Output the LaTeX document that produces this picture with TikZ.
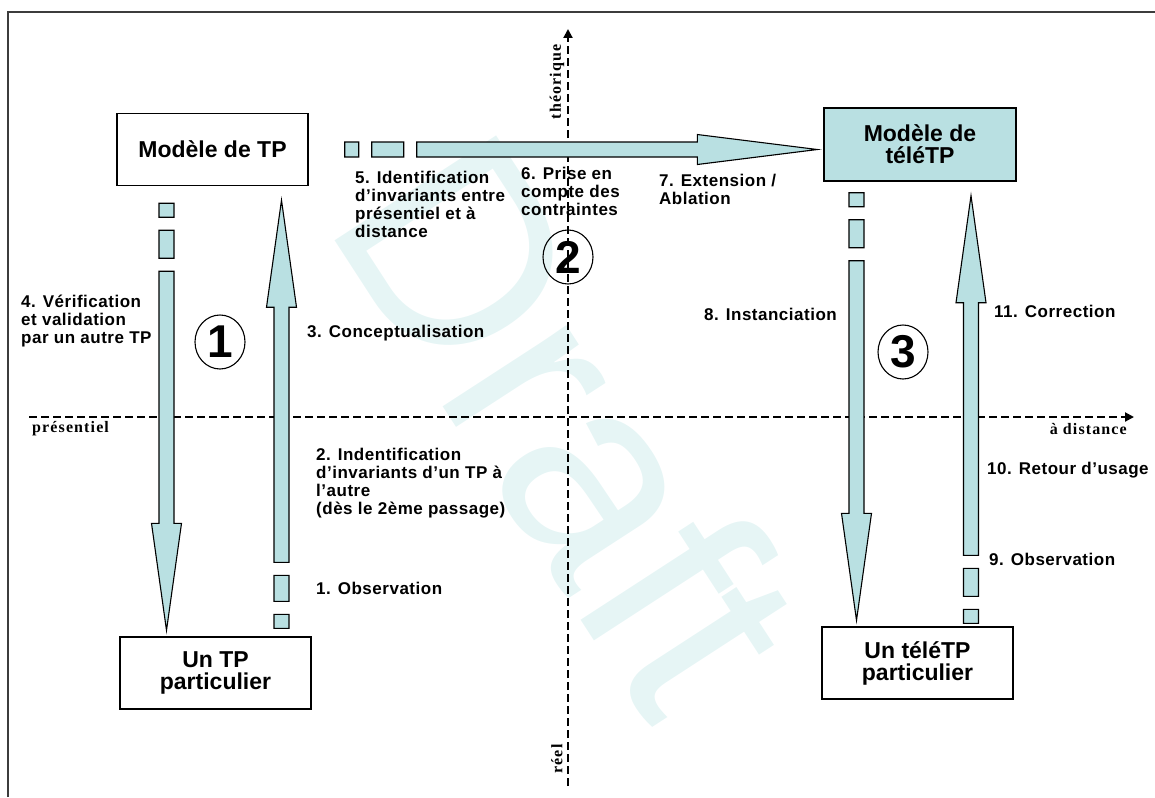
\documentclass[tikz,border=0pt]{standalone}
\usepackage{fontspec}
\setmainfont{Liberation Sans}
\newfontfamily\labfont{Liberation Sans}[LetterSpace=3]
\newfontfamily\axfont{Liberation Serif}[LetterSpace=7]
\usetikzlibrary{calc,arrows.meta,shapes.geometric}
\definecolor{blkfill}{RGB}{185,224,226}
\definecolor{wmcol}{RGB}{230,245,245}
\definecolor{framegray}{RGB}{60,60,60}
\tikzset{
  blk/.style={fill=blkfill, draw=black, line width=1.1pt, line join=miter},
  box/.style={draw=black, line width=1.4pt, minimum width=191pt, minimum height=72pt,
    inner sep=0pt, align=center, font=\fontsize{23}{22}\selectfont\bfseries},
  lab/.style={anchor=north west, inner sep=0pt, align=left,
    font=\labfont\fontsize{17}{18}\selectfont\bfseries},
  axl/.style={inner sep=0pt, font=\axfont\fontsize{16}{16}\selectfont\bfseries},
  axisline/.style={line width=2pt, dash pattern=on 8pt off 4pt, -{Triangle[length=9pt,width=9pt]}},
  num/.style={draw=black, line width=1.1pt, ellipse, minimum width=50pt, minimum height=54pt,
    inner sep=0pt, font=\fontsize{46}{46}\selectfont\bfseries},
  framel/.style={draw=framegray, line width=2pt},
  wmark/.style={text=wmcol, inner sep=0pt, font=\fontsize{280}{280}\selectfont}
}
% block arrow: #1 shaft start, #2 tip, #3 head length, #4 length of the longer tail dash
\newcommand{\blockarrow}[4]{%
  \filldraw[blk] let \p1=(#1), \p2=(#2),
    \n3={abs(\x2-\x1)+abs(\y2-\y1)},
    \n1={(\x2-\x1)/\n3}, \n2={(\y2-\y1)/\n3}, \n4={\n3-#3},
    \n5={13+#4}, \n6={26+#4}, \n7={40+#4}
  in
    ({\x1-7.5*(\n2)},{\y1+7.5*(\n1)}) --
    ({\x1+\n4*(\n1)-7.5*(\n2)},{\y1+\n4*(\n2)+7.5*(\n1)}) --
    ({\x1+\n4*(\n1)-15*(\n2)},{\y1+\n4*(\n2)+15*(\n1)}) --
    (\x2,\y2) --
    ({\x1+\n4*(\n1)+15*(\n2)},{\y1+\n4*(\n2)-15*(\n1)}) --
    ({\x1+\n4*(\n1)+7.5*(\n2)},{\y1+\n4*(\n2)-7.5*(\n1)}) --
    ({\x1+7.5*(\n2)},{\y1-7.5*(\n1)}) -- cycle
    ({\x1-13*(\n1)-7.5*(\n2)},{\y1-13*(\n2)+7.5*(\n1)}) --
    ({\x1-\n5*(\n1)-7.5*(\n2)},{\y1-\n5*(\n2)+7.5*(\n1)}) --
    ({\x1-\n5*(\n1)+7.5*(\n2)},{\y1-\n5*(\n2)-7.5*(\n1)}) --
    ({\x1-13*(\n1)+7.5*(\n2)},{\y1-13*(\n2)-7.5*(\n1)}) -- cycle
    ({\x1-\n6*(\n1)-7.5*(\n2)},{\y1-\n6*(\n2)+7.5*(\n1)}) --
    ({\x1-\n7*(\n1)-7.5*(\n2)},{\y1-\n7*(\n2)+7.5*(\n1)}) --
    ({\x1-\n7*(\n1)+7.5*(\n2)},{\y1-\n7*(\n2)-7.5*(\n1)}) --
    ({\x1-\n6*(\n1)+7.5*(\n2)},{\y1-\n6*(\n2)-7.5*(\n1)}) -- cycle;
}
\begin{document}
\begin{tikzpicture}[x=1pt,y=-1pt]
\useasboundingbox (0,0) rectangle (1155,797);
% watermark
\node[wmark, rotate=-57, anchor=base west] (wm) at (322,221) {Draft};
% frame
\draw[framel] (8,797) -- (8,12) -- (1155,12);
% axes
\coordinate (xl) at (29,417);
\coordinate (xr) at (1134,417);
\coordinate (yb) at (568,786);
\coordinate (yt) at (568,29);
\draw[axisline] (xl) -- (xr);
\draw[axisline] (yb) -- (yt);
\node[axl, anchor=west] (pres) at (32,429) {présentiel};
\node[axl, anchor=east] (dist) at (1127,429) {à distance};
\node[axl, rotate=90] (theo) at (557,82) {théorique};
\node[axl, rotate=90] (reel) at (557,759) {réel};
% boxes
\node[box] (mtp) at (212.5,149.5) {Modèle de TP};
\node[box, fill=blkfill, minimum width=192pt, minimum height=73pt] (mttp) at (920,144.5) {Modèle de\\téléTP};
\node[box] (utp) at (215.5,673) {Un TP\\particulier};
\node[box] (uttp) at (917.5,663) {Un téléTP\\particulier};
% arrow end points
\coordinate (a4s) at ($(mtp.south)+(-46,85)$);
\coordinate (a4t) at ($(utp.north)+(-49,-6)$);
\coordinate (a3s) at ($(utp.north)+(66,-74)$);
\coordinate (a3t) at ($(mtp.south)+(69,14)$);
\coordinate (a8s) at ($(mttp.south)+(-63.5,79)$);
\coordinate (a8t) at ($(uttp.north)+(-61,-6)$);
\coordinate (a11s) at ($(uttp.north)+(53.5,-71)$);
\coordinate (a11t) at ($(mttp.south)+(51,14)$);
\coordinate (a5s) at ($(mtp.east)+(108,0)$);
\coordinate (a5t) at ($(mttp.west)+(-6,5)$);
\blockarrow{a4s}{a4t}{107}{28}
\blockarrow{a3s}{a3t}{107}{26}
\blockarrow{a8s}{a8t}{107}{28}
\blockarrow{a11s}{a11t}{107}{28}
\blockarrow{a5s}{a5t}{120}{32}
% circled numbers
\node[num] (c1) at (220,342) {1};
\node[num] (c2) at (568,257) {2};
\node[num] (c3) at (903,352) {3};
% labels
\node[lab] (l4) at (21,295) {4. Vérification\\et validation\\par un autre TP};
\node[lab] (l3) at (307,325) {3. Conceptualisation};
\node[lab] (l2) at (316,448) {2. Indentification\\d’invariants d’un TP à\\l’autre\\(dès le 2ème passage)};
\node[lab] (l1) at (316,582) {1. Observation};
\node[lab] (l5) at (355,171) {5. Identification\\d’invariants entre\\présentiel et à\\distance};
\node[lab] (l6) at (521,167) {6. Prise en\\compte des\\contraintes};
\node[lab] (l7) at (659,174) {7. Extension /\\Ablation};
\node[lab] (l8) at (704,308) {8. Instanciation};
\node[lab] (l11) at (994,305) {11. Correction};
\node[lab] (l10) at (987,462) {10. Retour d’usage};
\node[lab] (l9) at (989,553) {9. Observation};
\end{tikzpicture}
\end{document}
